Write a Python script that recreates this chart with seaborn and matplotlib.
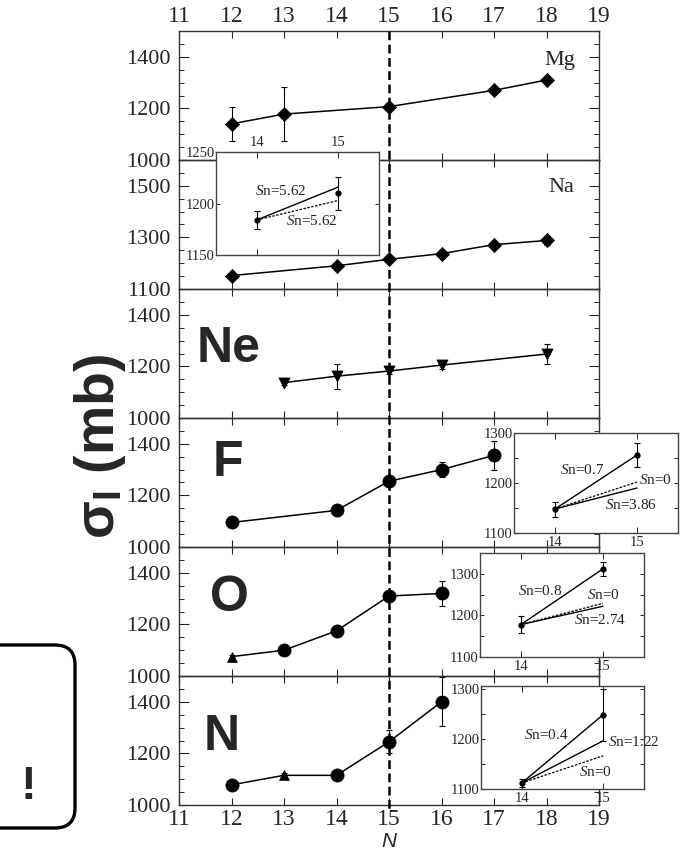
import matplotlib
matplotlib.use("Agg")
import matplotlib.pyplot as plt
import matplotlib.transforms as mtransforms
from matplotlib.patches import FancyBboxPatch
from matplotlib.ticker import MultipleLocator, FixedLocator
import pandas as pd
import seaborn as sns

sns.set_theme(style="ticks")
plt.rcParams["font.family"] = ["Liberation Serif", "DejaVu Serif"]
plt.rcParams["mathtext.fontset"] = "custom"
plt.rcParams["mathtext.rm"] = "Liberation Serif"
plt.rcParams["mathtext.it"] = "Liberation Serif:italic"
plt.rcParams["mathtext.bf"] = "Liberation Sans:bold"

# ---- interaction cross sections (mb) vs neutron number N ----
n_mg = [12, 13, 15, 17, 18]
sig_mg = [1140, 1178, 1207, 1270, 1310]
err_mg = [65, 105, 10, 10, 10]
mk_mg = ["D", "D", "D", "D", "D"]

n_na = [12, 14, 15, 16, 17, 18]
sig_na = [1152, 1190, 1215, 1237, 1272, 1288]
err_na = [8, 8, 8, 10, 10, 16]
mk_na = ["D", "D", "D", "D", "D", "D"]

n_ne = [13, 14, 15, 16, 18]
sig_ne = [1137, 1162, 1182, 1205, 1248]
err_ne = [8, 48, 10, 14, 40]
mk_ne = ["v", "v", "v", "v", "v"]

n_f = [12, 14, 15, 16, 17]
sig_f = [1095, 1142, 1255, 1300, 1355]
err_f = [10, 10, 20, 28, 55]
mk_f = ["o", "o", "o", "o", "o"]

n_o = [12, 13, 14, 15, 16]
sig_o = [1075, 1100, 1175, 1310, 1320]
err_o = [8, 10, 12, 15, 50]
mk_o = ["^", "o", "o", "o", "o"]

n_n = [12, 13, 14, 15, 16]
sig_n = [1078, 1115, 1115, 1245, 1400]
err_n = [8, 10, 8, 45, 95]
mk_n = ["o", "^", "o", "o", "o"]

elements = ["Mg", "Na", "Ne", "F", "O", "N"]
x_ticks = [11, 12, 13, 14, 15, 16, 17, 18, 19]

# ---- insets: N = 14 -> 15 step and S_n model lines ----
ins_n = [14, 15]
na_pts, na_err = [1184, 1210], [9, 16]
na_lines = [1216, 1203]
na_sn = ["5.62", "5.62"]
f_pts, f_err = [1148, 1256], [15, 24]
f_lines = [1256, 1202, 1190]
f_sn = ["0.7", "0", "3.86"]
o_pts, o_err = [1178, 1312], [20, 17]
o_lines = [1312, 1229, 1222]
o_sn = ["0.8", "0", "2.74"]
nn_pts, nn_err = [1112, 1248], [8, 52]
nn_lines = [1248, 1196, 1166]
nn_sn = ["0.4", "1.22", "0"]

W, H = 682, 856
fig = plt.figure(figsize=(W / 100, H / 100), dpi=100)


def px_box(x0, y0, x1, y1):
    return [x0 / W, 1 - y1 / H, (x1 - x0) / W, (y1 - y0) / H]


panels = [
    (n_mg, sig_mg, err_mg, mk_mg, (1000, 1500), [1000, 1200, 1400], 7.2),
    (n_na, sig_na, err_na, mk_na, (1100, 1600), [1100, 1300, 1500], 7.2),
    (n_ne, sig_ne, err_ne, mk_ne, (1000, 1500), [1000, 1200, 1400], 8),
    (n_f, sig_f, err_f, mk_f, (1000, 1500), [1000, 1200, 1400], 9.5),
    (n_o, sig_o, err_o, mk_o, (1000, 1500), [1000, 1200, 1400], 9.5),
    (n_n, sig_n, err_n, mk_n, (1000, 1500), [1000, 1200, 1400], 9.5),
]

left, right = 179, 599
top0, ph = 31, 129
axes = []
for i, (xs, ys, es, mks, ylim, yt, msz) in enumerate(panels):
    ax = fig.add_axes(px_box(left, top0 + i * ph, right, top0 + (i + 1) * ph))
    axes.append(ax)
    df = pd.DataFrame({"N": xs, "sigma": ys, "m": mks})
    sns.lineplot(data=df, x="N", y="sigma", ax=ax, color="black", lw=1.1,
                 legend=False, zorder=2)
    ax.errorbar(xs, ys, yerr=es, fmt="none", ecolor="black", elinewidth=0.8,
                capsize=2.2, capthick=0.8, zorder=2)
    small = {"^": msz * 0.75, "o": msz, "D": msz, "v": msz}
    for mk in sorted(set(mks)):
        sub = df[df["m"] == mk]
        sns.scatterplot(data=sub, x="N", y="sigma", ax=ax, marker=mk,
                        s=small[mk] ** 2, color="black", edgecolor="black",
                        linewidth=0.5, legend=False, zorder=3)
    ax.set_xlim(11, 19)
    ax.set_ylim(*ylim)
    ax.xaxis.set_major_locator(FixedLocator(x_ticks))
    ax.yaxis.set_major_locator(FixedLocator(yt))
    ax.yaxis.set_minor_locator(MultipleLocator(50))
    ax.set_xlabel("")
    ax.set_ylabel("")
    ax.tick_params(axis="x", which="both", direction="in", top=True, bottom=True,
                   length=5, width=0.8, labelsize=17, pad=3,
                   labelbottom=(i == 5), labeltop=(i == 0))
    ax.tick_params(axis="y", which="major", direction="in", left=True, right=True,
                   length=7, width=0.8, labelsize=16, pad=6)
    ax.tick_params(axis="y", which="minor", direction="in", left=True, right=True,
                   length=3.5, width=0.7)
    for sp in ax.spines.values():
        sp.set_linewidth(1.0)
        sp.set_color("#333333")
    ax.patch.set_alpha(0)

axes[-1].set_xticklabels([str(t) for t in x_ticks])
axes[0].set_xticklabels([str(t) for t in x_ticks])

# element names
axes[0].text(0.907, 0.775, "Mg", transform=axes[0].transAxes, ha="center",
             va="center", fontsize=16)
axes[1].text(0.91, 0.783, "Na", transform=axes[1].transAxes, ha="center",
             va="center", fontsize=16)
bold_pos = {"Ne": (0.119, 0.535), "F": (0.117, 0.651), "O": (0.119, 0.605),
            "N": (0.102, 0.527)}
for ax, name in zip(axes[2:], elements[2:]):
    bx, by = bold_pos[name]
    ax.text(bx, by, name, transform=ax.transAxes, ha="center", va="center",
            fontsize=36, fontweight="bold", family="Liberation Sans")

# dashed guide at N = 15 across all panels
trans = mtransforms.blended_transform_factory(axes[0].transData, fig.transFigure)
fig.add_artist(plt.Line2D([15, 15], [1 - top0 / H, 1 - 812 / H], transform=trans,
                          color="black", lw=1.8, linestyle=(0, (3.5, 1.8)),
                          zorder=5))

axes[-1].set_xlabel("N", fontsize=15, style="italic", family="Liberation Sans",
                    labelpad=1)

fig.text(100 / W, 1 - 446 / H, r"σ$_\mathbf{I}$ (mb)", rotation=90,
         ha="center", va="center", fontsize=40, fontweight="bold",
         family="Liberation Sans")


def make_inset(box, pts, errs, ends, sns_lbl, styles, lbl_pos, ylim, yt,
               labels_top=False):
    iax = fig.add_axes(px_box(*box))
    iax.set_facecolor("white")
    for end, ls in zip(ends, styles):
        d = pd.DataFrame({"N": ins_n, "sigma": [pts[0], end]})
        sns.lineplot(data=d, x="N", y="sigma", ax=iax, color="black",
                     lw=1.0 if ls == "-" else 0.9,
                     linestyle="-" if ls == "-" else (0, (2, 1.2)),
                     legend=False)
    iax.errorbar(ins_n, pts, yerr=errs, fmt="o", color="black", ms=3.5,
                 elinewidth=0.8, capsize=2, capthick=0.8, zorder=4)
    for lab, (tx, ty) in zip(sns_lbl, lbl_pos):
        iax.text(tx, ty, r"$\mathit{S}$n=" + lab, ha="center", va="center",
                 fontsize=11, zorder=6)
    iax.set_xlim(13.5, 15.5)
    iax.set_ylim(*ylim)
    iax.xaxis.set_major_locator(FixedLocator(ins_n))
    iax.yaxis.set_major_locator(FixedLocator(yt))
    iax.yaxis.set_minor_locator(MultipleLocator(50))
    iax.set_xlabel("")
    iax.set_ylabel("")
    iax.tick_params(axis="x", direction="in", top=True, bottom=True, length=4,
                    width=0.7, labelsize=10.5, pad=2,
                    labeltop=labels_top, labelbottom=not labels_top)
    iax.tick_params(axis="y", which="both", direction="in", left=True,
                    right=True, length=3, width=0.7, labelsize=10.5, pad=1)
    for sp in iax.spines.values():
        sp.set_linewidth(1.0)
        sp.set_color("#444444")
    return iax


make_inset((216, 152, 379, 255), na_pts, na_err, na_lines, na_sn, ["-", ":"],
           [(14.3, 1212), (14.67, 1183)], (1150, 1250), [1150, 1200, 1250],
           labels_top=True)
make_inset((514, 433, 678, 533), f_pts, f_err, f_lines, f_sn, ["-", ":", "-"],
           [(14.33, 1226), (15.23, 1206), (14.93, 1156)], (1100, 1300),
           [1100, 1200, 1300])
make_inset((480, 553, 644, 657), o_pts, o_err, o_lines, o_sn, ["-", ":", "-"],
           [(14.23, 1258), (15.01, 1249), (14.96, 1188)], (1100, 1350),
           [1100, 1200, 1300])
make_inset((481, 686, 644, 789), nn_pts, nn_err, nn_lines, nn_sn, ["-", "-", ":"],
           [(14.3, 1208), (15.38, 1194), (14.9, 1134)], (1100, 1305),
           [1100, 1200, 1300])

# rounded call-out box on the left edge
box_top, box_bot = 645, 828
box = FancyBboxPatch((-0.3, (H - box_bot) / 100), 1.05, (box_bot - box_top) / 100,
                     boxstyle="round,pad=0,rounding_size=0.2",
                     transform=fig.dpi_scale_trans, fill=False,
                     edgecolor="black", lw=2.4, zorder=10)
fig.add_artist(box)
fig.text(28 / W, 1 - 787 / H, "!", ha="center", va="center", fontsize=34,
         fontweight="bold", family="Liberation Sans")

fig.savefig("out.png", dpi=100)
